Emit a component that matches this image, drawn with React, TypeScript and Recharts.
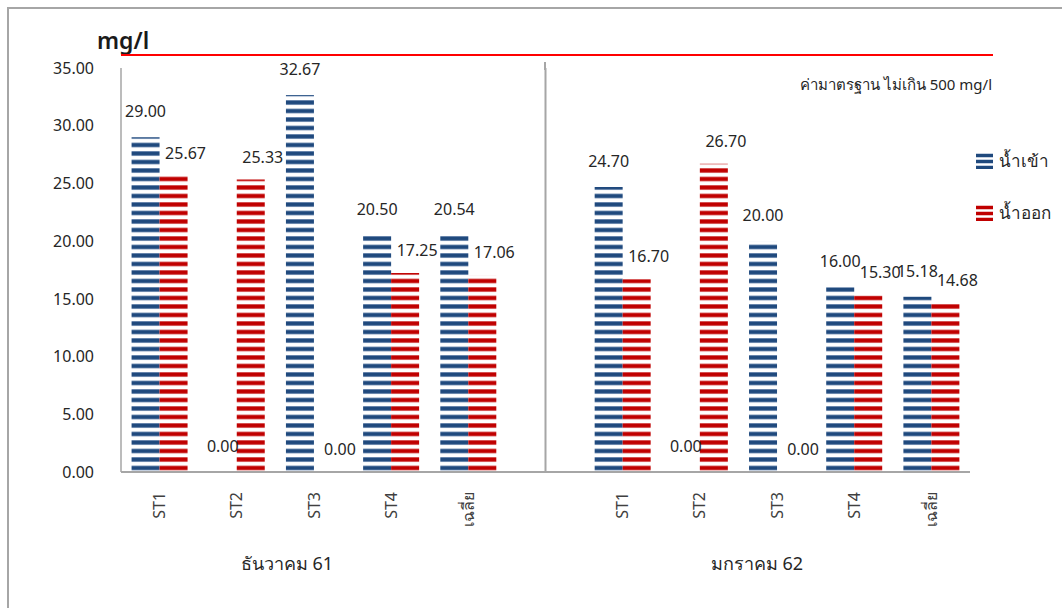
import React from 'react';
import { BarChart, Bar, XAxis, YAxis, ReferenceLine, LabelList } from 'recharts';

const stations = ['ST1', 'ST2', 'ST3', 'ST4', 'เฉลี่ย'];
const months = ['ธันวาคม 61', 'มกราคม 62'];
const decInflow = [29.0, 0, 32.67, 20.5, 20.54];
const decOutflow = [25.67, 25.33, 0, 17.25, 17.06];
const janInflow = [24.7, 0, 20.0, 16.0, 15.18];
const janOutflow = [16.7, 26.7, 0, 15.3, 14.68];
const yTicks = [0, 5, 10, 15, 20, 25, 30, 35];
const seriesNames = ['น้ำเข้า', 'น้ำออก'];

const BLUE = '#1f497d';
const BLUE_EDGE = '#8fa6c6';
const RED = '#c00000';
const RED_EDGE = '#e08080';
const FONT = '"Noto Sans", "Open Sans", sans-serif';

// one empty slot between the two months holds the divider line
const rows = [
  ...stations.map((s, i) => ({ key: `dec-${i}`, name: s, inflow: decInflow[i], outflow: decOutflow[i] })),
  { key: 'gap', name: '', inflow: null, outflow: null },
  ...stations.map((s, i) => ({ key: `jan-${i}`, name: s, inflow: janInflow[i], outflow: janOutflow[i] })),
];
const nameByKey: Record<string, string> = Object.fromEntries(rows.map((r) => [r.key, r.name]));

const makeLabel = (dx: number, dy: number) => (props: any) => {
  const { x, y, width, height, value } = props;
  if (value === null || value === undefined) return null;
  // zero bars keep a 1px stub so their label still gets a position; anchor it on the baseline
  const top = Number(value) === 0 ? Number(y) + Number(height) : Number(y);
  return (
    <text
      x={Number(x) + Number(width) / 2 + dx}
      y={top + dy}
      textAnchor="middle"
      dominantBaseline="central"
      fontSize={16}
      fontFamily={FONT}
      fill="#262626"
    >
      {Number(value).toFixed(2)}
    </text>
  );
};

const StationTick = (props: any) => {
  const { x, y, payload } = props;
  const label = nameByKey[payload.value] ?? '';
  return (
    <g transform={`translate(${x},${y})`}>
      <text
        x={0}
        y={0}
        dy="0.35em"
        textAnchor="end"
        transform="rotate(-90)"
        fontSize={16}
        fontFamily={FONT}
        fill="#404040"
      >
        {label}
      </text>
    </g>
  );
};

const StripeIcon = ({ color, edge }: { color: string; edge: string }) => (
  <svg width={17} height={17} style={{ display: 'block' }}>
    {[2, 8, 14].map((y) => (
      <g key={y}>
        <rect x={0} y={y - 0.5} width={17} height={4} fill={edge} />
        <rect x={0} y={y} width={17} height={3} fill={color} />
      </g>
    ))}
  </svg>
);

const text = (style: React.CSSProperties): React.CSSProperties => ({
  position: 'absolute',
  fontFamily: FONT,
  whiteSpace: 'nowrap',
  lineHeight: 1,
  ...style,
});

export default function App() {
  return (
    <div style={{ position: 'absolute', left: 0, top: 0, width: 1062, height: 608, background: '#fff', overflow: 'hidden' }}>
      <div style={{ position: 'absolute', left: 7, top: 7, width: 1100, height: 700, borderLeft: '2px solid #a6a6a6', borderTop: '2px solid #a6a6a6' }} />
      <div style={{ position: 'absolute', left: 544, top: 62, width: 2, height: 8, background: '#a6a6a6' }} />

      <BarChart
        width={1062}
        height={608}
        data={rows}
        margin={{ top: 68, right: 92, bottom: 0, left: 0 }}
        barCategoryGap="13.7%"
        barGap={0}
      >
        <defs>
          <pattern id="stripeBlue" patternUnits="userSpaceOnUse" width={8} height={8.5} y={6.6}>
            <rect x={0} y={0} width={8} height={4.8} fill={BLUE_EDGE} />
            <rect x={0} y={0.5} width={8} height={3.8} fill={BLUE} />
          </pattern>
          <pattern id="stripeRed" patternUnits="userSpaceOnUse" width={8} height={8.5} y={6.6}>
            <rect x={0} y={0} width={8} height={4.8} fill={RED_EDGE} />
            <rect x={0} y={0.5} width={8} height={3.8} fill={RED} />
          </pattern>
        </defs>
        <XAxis
          dataKey="key"
          height={136}
          tickLine={false}
          tickSize={0}
          tickMargin={20}
          interval={0}
          axisLine={{ stroke: '#a6a6a6', strokeWidth: 2 }}
          tick={<StationTick />}
        />
        <YAxis
          width={121}
          domain={[0, 35]}
          ticks={yTicks}
          tickFormatter={(v: number) => v.toFixed(2)}
          tickLine={false}
          tickSize={0}
          tickMargin={27}
          axisLine={{ stroke: '#a6a6a6', strokeWidth: 1.5 }}
          tick={{ fontSize: 16, fontFamily: FONT, fill: '#262626' }}
        />
        <ReferenceLine x="gap" stroke="#a6a6a6" strokeWidth={2} />
        <Bar dataKey="inflow" name={seriesNames[0]} fill="url(#stripeBlue)" minPointSize={1} isAnimationActive={false}>
          <LabelList dataKey="inflow" content={makeLabel(0, -26)} />
        </Bar>
        <Bar dataKey="outflow" name={seriesNames[1]} fill="url(#stripeRed)" minPointSize={1} isAnimationActive={false}>
          <LabelList dataKey="outflow" content={makeLabel(12, -23)} />
        </Bar>
      </BarChart>

      <div style={text({ left: 97, top: 29, fontSize: 23, fontWeight: 600, color: '#1a1a1a' })}>mg/l</div>
      <div style={{ position: 'absolute', left: 121, top: 54, width: 872, height: 2, background: '#ff0000' }} />
      <div style={text({ right: 1062 - 992, top: 77, fontSize: 15, color: '#262626' })}>
        ค่ามาตรฐาน ไม่เกิน 500 mg/l
      </div>

      <div style={text({ left: 287, top: 554, fontSize: 18, color: '#262626', transform: 'translateX(-50%)' })}>{months[0]}</div>
      <div style={text({ left: 757, top: 554, fontSize: 18, color: '#262626', transform: 'translateX(-50%)' })}>{months[1]}</div>

      <div style={{ position: 'absolute', left: 976, top: 150 }}>
        {[
          { name: seriesNames[0], color: BLUE, edge: BLUE_EDGE },
          { name: seriesNames[1], color: RED, edge: RED_EDGE },
        ].map((s) => (
          <div key={s.name} style={{ display: 'flex', alignItems: 'center', height: 20, marginBottom: 32 }}>
            <StripeIcon color={s.color} edge={s.edge} />
            <span style={{ marginLeft: 6, fontFamily: FONT, fontSize: 17, color: '#262626', whiteSpace: 'nowrap' }}>{s.name}</span>
          </div>
        ))}
      </div>
    </div>
  );
}
